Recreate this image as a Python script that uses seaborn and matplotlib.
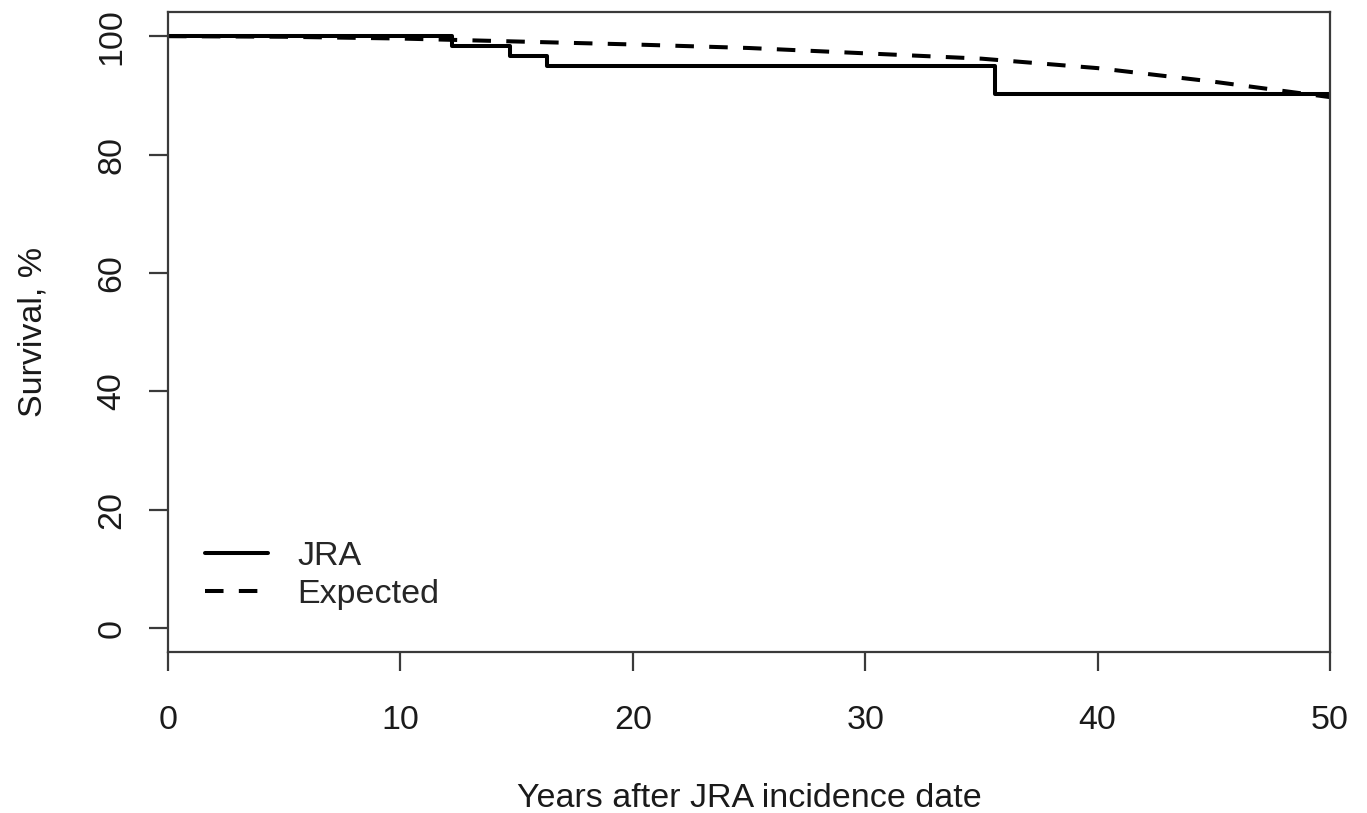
import matplotlib
matplotlib.use("Agg")
import matplotlib.pyplot as plt
import seaborn as sns
import pandas as pd

# Observed (Kaplan-Meier) survival for JRA cohort, step function
jra_years = [0, 12.2, 14.7, 16.3, 35.6, 50]
jra_surv = [100, 98.4, 96.7, 95.0, 90.3, 90.3]

# Expected survival from the general population
exp_years = [0, 5, 10, 15, 20, 25, 30, 35, 40, 45, 50]
exp_surv = [100, 99.9, 99.6, 99.1, 98.6, 98.0, 97.1, 96.2, 94.6, 92.3, 89.7]

x_ticks = [0, 10, 20, 30, 40, 50]
y_ticks = [0, 20, 40, 60, 80, 100]

sns.set_style("ticks")
plt.rcParams['font.family'] = ['Liberation Sans', 'DejaVu Sans']

fs = 24.5
lw = 2.9
dash = (4.6, 3.8)

fig = plt.figure(figsize=(13.67, 8.13), dpi=100)
ax = fig.add_axes([0.1229, 0.198, 0.8501, 0.787])

jra_df = pd.DataFrame({'Years': jra_years, 'Survival': jra_surv})
exp_df = pd.DataFrame({'Years': exp_years, 'Survival': exp_surv})

sns.lineplot(data=jra_df, x='Years', y='Survival', ax=ax, color='black',
             linewidth=lw, drawstyle='steps-post', label='JRA')
sns.lineplot(data=exp_df, x='Years', y='Survival', ax=ax, color='black',
             linewidth=lw, label='Expected')
ax.lines[-1].set_dashes(dash)

ax.set_xlim(0, 50)
ax.set_ylim(-4.05, 104.05)
ax.set_xticks(x_ticks)
ax.set_yticks(y_ticks)
ax.set_yticklabels([str(v) for v in y_ticks], rotation=90, va='center')

for sp in ax.spines.values():
    sp.set_visible(True)
    sp.set_color('#3a3a3a')
    sp.set_linewidth(1.6)

ax.tick_params(axis='both', length=14, width=1.6, color='#3a3a3a',
               labelsize=fs, labelcolor='#1a1a1a')
ax.tick_params(axis='x', pad=24)
ax.tick_params(axis='y', pad=15)

ax.set_xlabel('Years after JRA incidence date', fontsize=fs, color='#1a1a1a', labelpad=34)
ax.set_ylabel('Survival, %', fontsize=fs, color='#1a1a1a', labelpad=35)

leg = ax.legend(loc='upper left', bbox_to_anchor=(0.032, 0.173), frameon=False,
                fontsize=fs, handlelength=1.85, handletextpad=0.85,
                labelspacing=0.19, borderpad=0, borderaxespad=0)
for h in leg.get_lines():
    h.set_linewidth(lw)
leg.get_lines()[1].set_dashes(dash)

fig.savefig('out.png', dpi=100)
